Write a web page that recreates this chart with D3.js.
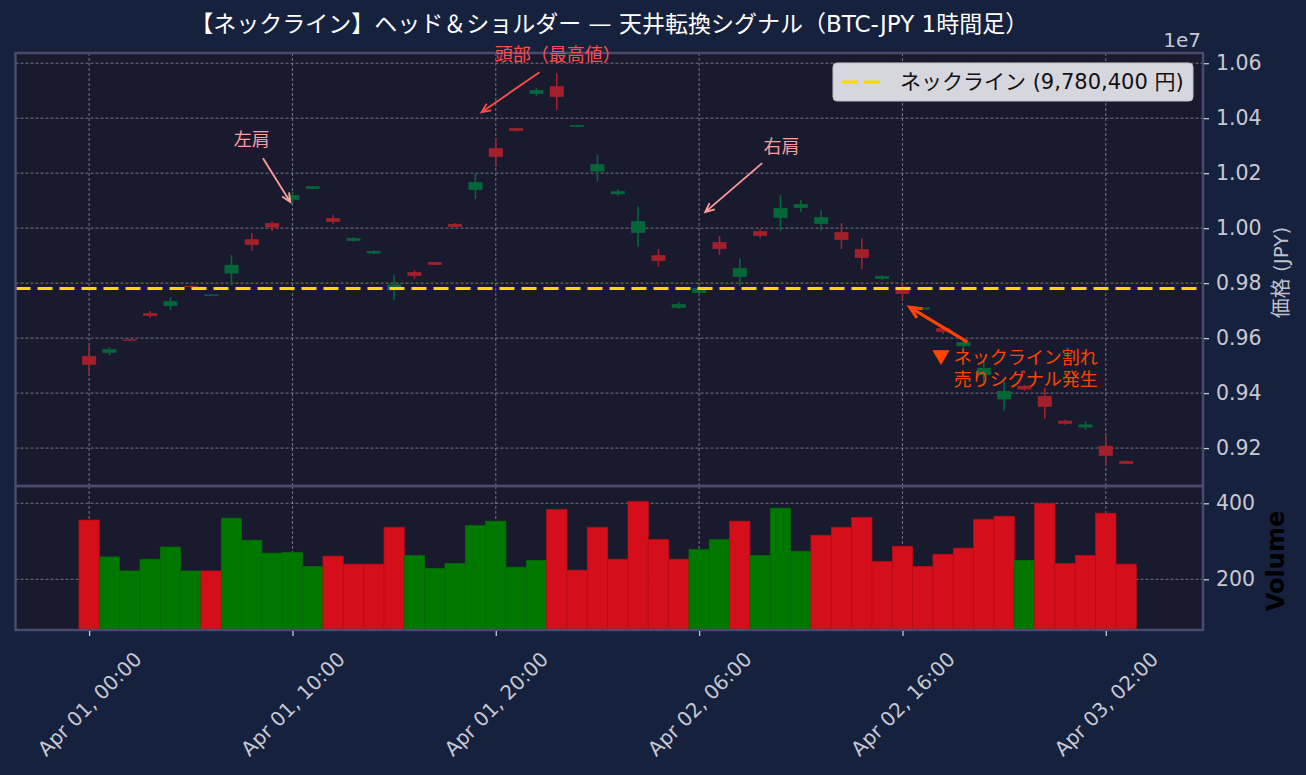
<!DOCTYPE html>
<html>
<head>
<meta charset="utf-8">
<script src="https://cdn.jsdelivr.net/npm/d3@7"></script>
<style>
  body { margin: 0; background: #16213e; }
  text { font-family: "DejaVu Sans", "Noto Sans CJK JP", sans-serif; }
</style>
</head>
<body>
<div id="chart"></div>
<script>
// hourly BTC-JPY candles, Apr 01 00:00 -> Apr 03 03:00
var opens = [9534500, 9546500, 9595300, 9690900, 9717400, 9790200, 9753800, 9835300, 9960000, 10018200,
  10102900, 10142900, 10036400, 9953800, 9908000, 9774500, 9840000, 9876400, 10015600, 10139300,
  10290900, 10363600, 10488400, 10516400, 10368400, 10206200, 10123600, 9982900, 9901800, 9710200,
  9764700, 9949100, 9822900, 9989100, 10037500, 10073800, 10015600, 9985500, 9923600, 9815600,
  9786500, 9704300, 9636400, 9570900, 9465400, 9377100, 9426500, 9389100, 9299300, 9275200,
  9208400, 9152700];
var highs = [9570900, 9567300, 9596500, 9698200, 9749100, 9792000, 9760000, 9901800, 9981800, 10025500,
  10132000, 10154000, 10047300, 9967300, 9920000, 9829100, 9847300, 9877500, 10019000, 10200000,
  10327300, 10365000, 10509100, 10563600, 10375500, 10265500, 10141800, 10077500, 9923600, 9730900,
  9792700, 9970900, 9890900, 9996400, 10120000, 10101800, 10065500, 10018200, 9963600, 9829100,
  9797500, 9712500, 9643600, 9592700, 9526200, 9442500, 9430200, 9419300, 9304000, 9298200,
  9244700, 9154000];
var lows = [9471600, 9538200, 9589000, 9673800, 9702900, 9784000, 9752500, 9792700, 9917500, 9990200,
  10093400, 10141500, 10015600, 9950200, 9905400, 9739300, 9815600, 9865000, 10002500, 10105500,
  10221800, 10352500, 10481100, 10430200, 10367500, 10172000, 10117500, 9932000, 9859300, 9706500,
  9752700, 9902900, 9789100, 9964700, 9990200, 10059300, 9990200, 9923600, 9850900, 9812000,
  9741800, 9703500, 9615600, 9558900, 9428000, 9335600, 9408400, 9306500, 9284800, 9266500,
  9135600, 9141500];
var closes = [9502900, 9560000, 9590200, 9681100, 9734500, 9786500, 9758900, 9866500, 9939300, 10002500,
  10120000, 10152700, 10022900, 9963600, 9916400, 9795300, 9826500, 9866500, 10004700, 10167300,
  10259300, 10353800, 10501800, 10477500, 10374500, 10232700, 10134500, 10025500, 9881100, 9723600,
  9782900, 9924700, 9854500, 9972000, 10072700, 10087300, 10040000, 9957500, 9892000, 9825500,
  9761100, 9711600, 9622900, 9585400, 9492000, 9407300, 9413400, 9350200, 9288400, 9286000,
  9172000, 9142900];
var volumes = [356, 259, 222, 253, 285, 222, 222, 361, 303, 269,
  271, 234, 261, 240, 240, 337, 263, 229, 242, 342,
  353, 232, 250, 384, 224, 337, 253, 405, 305, 253,
  279, 305, 353, 263, 387, 274, 316, 337, 363, 247,
  287, 234, 266, 282, 358, 366, 250, 400, 242, 263,
  374, 240];

var neckline = 9780400;
var priceTicks = [9200000, 9400000, 9600000, 9800000, 10000000, 10200000, 10400000, 10600000];
var volumeTicks = [200, 400];
var timeTickIdx = [0, 10, 20, 30, 40, 50];
var timeTickLabels = ["Apr 01, 00:00", "Apr 01, 10:00", "Apr 01, 20:00",
  "Apr 02, 06:00", "Apr 02, 16:00", "Apr 03, 02:00"];

// annotations: text at [idx, price], arrow from tail to tip
var notes = [
  { text: ["左肩"], at: [8, 10320000], tail: [8.55, 10254500], tip: [9.9, 10094500], color: "#ff9c9c", width: 1.8, anchor: "middle" },
  { text: ["頭部（最高値）"], at: [23.05, 10632700], tail: [22.15, 10567300], tip: [19.3, 10421800], color: "#ff4d4d", width: 1.8, anchor: "middle" },
  { text: ["右肩"], at: [34.05, 10294500], tail: [33.1, 10236400], tip: [30.3, 10058200], color: "#ff9c9c", width: 1.8, anchor: "middle" },
  { text: ["▼ ネックライン割れ", "売りシグナル発生"], at: [49.6, 9527300], tail: [43.2, 9585400], tip: [40.35, 9712700], color: "#ff4500", width: 3, anchor: "end" }
];

var svgWidth = 1306;
var svgHeight = 775;
var panel = { left: 15.5, right: 1203, top: 53, mid: 486, bottom: 630 };

var svg = d3.select("#chart")
  .append("svg")
  .attr("width", svgWidth)
  .attr("height", svgHeight)
  .style("display", "block");

svg.append("rect").attr("width", svgWidth).attr("height", svgHeight).attr("fill", "#16213e");

var n = closes.length;
var x = d3.scaleLinear()
  .domain([-3.62, n - 1 + 3.78])
  .range([panel.left, panel.right]);

var lo = d3.min(lows), hi = d3.max(highs), pad = (hi - lo) * 0.0515;
var y = d3.scaleLinear()
  .domain([lo - pad, hi + pad])
  .range([panel.mid, panel.top]);

var yVol = d3.scaleLinear()
  .domain([d3.min(volumes) * 0.3, d3.max(volumes) * 1.1])
  .range([panel.bottom, panel.mid]);

var step = x(1) - x(0);

// panel backgrounds
svg.append("rect")
  .attr("x", panel.left).attr("y", panel.top)
  .attr("width", panel.right - panel.left).attr("height", panel.mid - panel.top)
  .attr("fill", "#1a1a2e");
svg.append("rect")
  .attr("x", panel.left).attr("y", panel.mid)
  .attr("width", panel.right - panel.left).attr("height", panel.bottom - panel.mid)
  .attr("fill", "#1a1a2e");

// grid
var grid = svg.append("g")
  .attr("stroke", "#b0b0b8")
  .attr("stroke-opacity", 0.75)
  .attr("stroke-width", 0.8)
  .attr("stroke-dasharray", "3,2");

grid.selectAll(".hp").data(priceTicks).enter().append("line")
  .attr("x1", panel.left).attr("x2", panel.right)
  .attr("y1", d => y(d)).attr("y2", d => y(d));
grid.selectAll(".hv").data(volumeTicks).enter().append("line")
  .attr("x1", panel.left).attr("x2", panel.right)
  .attr("y1", d => yVol(d)).attr("y2", d => yVol(d));
grid.selectAll(".vp").data(timeTickIdx).enter().append("line")
  .attr("x1", d => x(d)).attr("x2", d => x(d))
  .attr("y1", panel.top).attr("y2", panel.mid);
grid.selectAll(".vv").data(timeTickIdx).enter().append("line")
  .attr("x1", d => x(d)).attr("x2", d => x(d))
  .attr("y1", panel.mid).attr("y2", panel.bottom);

// volume bars, coloured by close vs previous close
var volUp = closes.map(function(c, i) {
  return i === 0 ? c >= opens[0] : c >= closes[i - 1];
});
svg.append("g").selectAll("rect")
  .data(volumes)
  .enter()
  .append("rect")
  .attr("x", (d, i) => x(i) - step / 2)
  .attr("width", step)
  .attr("y", d => yVol(d))
  .attr("height", d => panel.bottom - yVol(d))
  .attr("fill", (d, i) => volUp[i] ? "#007800" : "#d40e1a")
  .attr("stroke", (d, i) => volUp[i] ? "#046a06" : "#b80d18")
  .attr("stroke-width", 0.7);

// candles
var upColor = "#05663a", downColor = "#a3202b";
var candles = svg.append("g").selectAll("g")
  .data(closes)
  .enter()
  .append("g");

candles.append("line")
  .attr("x1", (d, i) => x(i)).attr("x2", (d, i) => x(i))
  .attr("y1", (d, i) => y(highs[i]))
  .attr("y2", (d, i) => y(lows[i]))
  .attr("stroke", (d, i) => d >= opens[i] ? upColor : downColor)
  .attr("stroke-width", 1.6);

candles.append("rect")
  .attr("x", (d, i) => x(i) - step * 0.345)
  .attr("width", step * 0.69)
  .attr("y", (d, i) => y(Math.max(d, opens[i])))
  .attr("height", (d, i) => Math.max(1.2, Math.abs(y(d) - y(opens[i]))))
  .attr("fill", (d, i) => d >= opens[i] ? upColor : downColor);

// neckline
svg.append("line")
  .attr("x1", panel.left).attr("x2", panel.right)
  .attr("y1", y(neckline)).attr("y2", y(neckline))
  .attr("stroke", "#ffd700")
  .attr("stroke-width", 3)
  .attr("stroke-dasharray", "15,7");

// spines
[[panel.top, panel.mid], [panel.mid, panel.bottom]].forEach(function(p) {
  svg.append("rect")
    .attr("x", panel.left).attr("y", p[0])
    .attr("width", panel.right - panel.left).attr("height", p[1] - p[0])
    .attr("fill", "none")
    .attr("stroke", "#4a4a6c")
    .attr("stroke-width", 2.5);
});

// axes
var tickColor = "#c8c8d2";
function styleAxis(g) {
  g.select(".domain").remove();
  g.selectAll(".tick line").attr("stroke", tickColor).attr("stroke-width", 1.3);
  g.selectAll(".tick text").attr("fill", tickColor).style("font-size", "20.5px")
    .style("font-family", '"DejaVu Sans", "Noto Sans CJK JP", sans-serif');
}

svg.append("g")
  .attr("transform", `translate(${panel.right + 1}, 0)`)
  .call(d3.axisRight(y).tickValues(priceTicks).tickSize(5).tickPadding(7)
    .tickFormat(d => (d / 1e7).toFixed(2)))
  .call(styleAxis);

svg.append("g")
  .attr("transform", `translate(${panel.right + 1}, 0)`)
  .call(d3.axisRight(yVol).tickValues(volumeTicks).tickSize(5).tickPadding(7))
  .call(styleAxis);

var xAxis = svg.append("g")
  .attr("transform", `translate(0, ${panel.bottom + 1})`)
  .call(d3.axisBottom(x).tickValues(timeTickIdx).tickSize(5)
    .tickFormat((d, i) => timeTickLabels[i]))
  .call(styleAxis);

xAxis.selectAll(".tick text")
  .attr("y", 0)
  .attr("dy", "0.35em")
  .attr("text-anchor", "middle")
  .style("font-size", "20px")
  .attr("transform", "translate(0, 73) rotate(-45)");

svg.append("text")
  .attr("x", panel.right - 2).attr("y", 47)
  .attr("text-anchor", "end")
  .attr("fill", tickColor)
  .style("font-size", "20px")
  .text("1e7");

svg.append("text")
  .attr("transform", `translate(1281, ${(panel.top + panel.mid) / 2 + 3}) rotate(-90)`)
  .attr("text-anchor", "middle")
  .attr("dy", "0.35em")
  .attr("fill", "#c0c0cc")
  .style("font-size", "20px")
  .text("価格 (JPY)");

svg.append("text")
  .attr("transform", `translate(1276, ${(panel.mid + panel.bottom) / 2 + 3}) rotate(-90)`)
  .attr("text-anchor", "middle")
  .attr("dy", "0.35em")
  .attr("fill", "#000000")
  .style("font-size", "24px")
  .style("font-weight", "bold")
  .text("Volume");

// title
svg.append("text")
  .attr("x", (panel.left + panel.right) / 2)
  .attr("y", 32)
  .attr("text-anchor", "middle")
  .attr("fill", "#ffffff")
  .style("font-size", "23px")
  .text("【ネックライン】ヘッド＆ショルダー — 天井転換シグナル（BTC-JPY 1時間足）");

// legend
var legend = svg.append("g");
legend.append("rect")
  .attr("x", 833).attr("y", 63)
  .attr("width", 360).attr("height", 38)
  .attr("rx", 4)
  .attr("fill", "#d6d6de")
  .attr("stroke", "#c0c0c8");
legend.append("line")
  .attr("x1", 842).attr("x2", 880)
  .attr("y1", 82).attr("y2", 82)
  .attr("stroke", "#ffd700")
  .attr("stroke-width", 3)
  .attr("stroke-dasharray", "16,6");
legend.append("text")
  .attr("x", 900).attr("y", 82)
  .attr("dy", "0.35em")
  .attr("fill", "#111111")
  .style("font-size", "21px")
  .text("ネックライン (" + d3.format(",")(neckline) + " 円)");

// annotations
notes.forEach(function(a) {
  var tx = x(a.tail[0]), ty = y(a.tail[1]);
  var px = x(a.tip[0]), py = y(a.tip[1]);
  var ang = Math.atan2(ty - py, tx - px);
  var hl = a.width > 2 ? 13 : 10, spread = 0.42;
  var h1 = [px + hl * Math.cos(ang + spread), py + hl * Math.sin(ang + spread)];
  var h2 = [px + hl * Math.cos(ang - spread), py + hl * Math.sin(ang - spread)];
  svg.append("path")
    .attr("d", `M${tx},${ty}L${px},${py}M${h1[0]},${h1[1]}L${px},${py}L${h2[0]},${h2[1]}`)
    .attr("fill", "none")
    .attr("stroke", a.color)
    .attr("stroke-width", a.width);

  var t = svg.append("text")
    .attr("x", x(a.at[0]))
    .attr("y", y(a.at[1]))
    .attr("text-anchor", a.anchor)
    .attr("fill", a.color)
    .style("font-family", '"Noto Sans CJK JP", sans-serif')
    .style("font-size", "18px");
  a.text.forEach(function(line, k) {
    t.append("tspan")
      .attr("x", x(a.at[0]))
      .attr("dy", k === 0 ? "0.35em" : "1.22em")
      .text(line);
  });
});
</script>
</body>
</html>
